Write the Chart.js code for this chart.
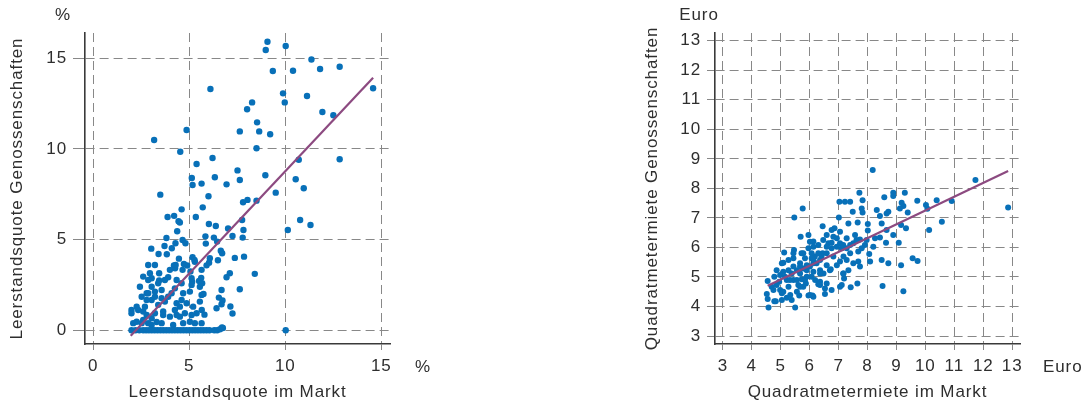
<!DOCTYPE html>
<html>
<head>
<meta charset="utf-8">
<script src="https://cdn.jsdelivr.net/npm/chart.js@4/dist/chart.umd.min.js"></script>
<style>
  html, body { margin: 0; padding: 0; background: #fff; }
  #wrap { position: relative; width: 1083px; height: 403px; overflow: hidden; }
  canvas { position: absolute; top: 0; }
  #leerstand { left: 0; }
  #miete { left: 540px; }
</style>
</head>
<body>
<div id="wrap">
  <canvas id="leerstand" width="540" height="403" style="width:540px;height:403px"></canvas>
  <canvas id="miete" width="543" height="403" style="width:543px;height:403px"></canvas>
</div>
<script>
// ---- Leerstandsquote: Markt (x) vs. Genossenschaften (y), in % ----
const leerstandTicks = [0, 5, 10, 15];
const leerstandPunkte = [
  [9.07,15.92],[8.98,15.46],[10.02,15.68],[11.36,14.94],[12.83,14.54],[11.81,14.41],[9.35,14.30],[10.40,14.32],
  [6.10,13.31],[14.57,13.35],[9.88,13.07],[11.13,12.92],[9.97,12.57],[8.27,12.57],[8.01,12.19],[11.93,12.04],
  [12.50,11.86],[8.53,11.47],[4.86,11.05],[7.63,10.97],[8.64,10.97],[9.21,10.81],[3.17,10.50],[8.50,10.04],
  [4.53,9.85],[6.21,9.50],[10.70,9.41],[12.83,9.43],[5.38,9.17],[8.96,8.55],[7.51,8.82],[5.13,8.40],
  [6.33,8.44],[7.63,8.29],[10.54,8.33],[5.64,8.09],[5.17,8.01],[6.94,8.05],[10.96,7.83],[9.50,7.59],
  [3.49,7.48],[6.00,7.39],[8.03,7.19],[7.80,7.06],[8.50,7.15],[5.70,6.78],[4.60,6.67],[3.87,6.25],
  [4.21,6.31],[5.34,6.25],[4.44,6.01],[4.51,5.94],[6.02,5.86],[10.77,6.08],[7.75,6.08],[6.38,5.75],
  [11.31,5.81],[7.02,5.61],[10.13,5.53],[4.37,5.46],[7.82,5.53],[7.25,5.20],[5.84,5.18],[6.28,5.11],
  [3.81,5.09],[7.78,5.11],[4.65,4.98],[4.80,4.80],[4.28,4.80],[3.02,4.50],[4.09,4.52],[3.71,4.65],
  [5.86,4.78],[6.45,4.89],[6.64,4.39],[6.71,4.25],[3.40,4.21],[3.83,4.19],[5.17,4.03],[5.27,3.88],
  [6.07,3.97],[7.37,3.99],[7.85,4.06],[4.46,3.95],[6.49,3.86],[6.03,3.73],[4.89,3.57],[3.21,3.60],
  [5.90,3.58],[8.41,3.11],[4.20,3.57],[4.26,3.42],[4.65,3.33],[5.06,3.24],[3.43,3.14],[7.11,3.14],
  [6.94,2.92],[5.62,2.89],[5.51,2.72],[5.15,2.68],[7.63,2.26],[6.68,2.22],[5.64,1.95],[5.74,2.00],
  [6.54,1.80],[6.73,1.64],[5.55,1.58],[6.68,1.43],[7.14,1.31],[5.65,1.12],[6.42,1.21],[7.25,0.92],
  [5.79,0.86],[10.02,0.00],
  [5.29,3.78],[2.86,3.60],[3.99,3.33],[2.95,3.14],[3.04,2.87],[3.43,2.74],[3.90,2.92],[4.34,2.77],
  [5.12,2.87],[2.43,2.40],[2.78,2.04],[3.56,2.22],[4.08,2.04],[4.60,2.59],[5.12,2.50],[5.55,2.40],
  [3.04,1.67],[3.73,1.58],[4.34,1.49],[4.86,1.49],[5.20,1.30],[1.99,1.12],[1.99,0.94],[2.26,1.30],
  [2.60,1.03],[3.21,0.94],[3.64,0.84],[3.99,0.75],[4.51,0.75],[5.12,0.84],[2.08,0.39],[2.52,0.39],
  [3.04,0.29],[3.56,0.39],[4.16,0.29],[4.68,0.39],[5.29,0.39],
  [4.29,3.60],[4.72,3.66],[2.60,2.96],[5.64,3.33],[2.86,2.77],[3.38,2.59],[3.73,2.77],[5.67,2.59],
  [2.86,2.04],[3.21,2.13],[4.68,2.04],[5.03,2.13],[2.34,1.12],[2.69,1.30],[3.38,1.40],[4.51,1.30],
  [5.38,0.94],[4.77,0.94],[4.34,0.84],[3.04,0.66],[2.60,0.57],[2.26,0.47],[2.86,0.39],[3.30,0.45],
  [5.03,0.47],[5.64,0.39],[3.21,1.85],[3.56,1.77],[3.90,1.85],[2.78,1.67],[2.52,1.85],[3.04,2.40],
  [4.25,2.31],[4.60,1.67],[4.25,1.12],[2.78,0.84],[3.64,1.03],
  [1.99,0],[2.20,0],[2.40,0],[2.60,0],[2.75,0],[2.90,0],[3.05,0],[3.20,0],[3.35,0],[3.50,0],
  [3.65,0],[3.80,0],[3.95,0],[4.10,0],[4.25,0],[4.40,0],[4.55,0],[4.70,0],[4.85,0],[5.00,0],
  [5.15,0],[5.30,0],[5.45,0],[5.60,0],[5.75,0],[5.90,0],[6.05,0],[6.30,0],[6.45,0],[6.60,0.05],
  [6.75,0.12],[6.70,0.15]
];
const leerstandTrend = [[1.95,-0.31],[14.57,13.93]];

// ---- Quadratmetermiete: Markt (x) vs. Genossenschaften (y), in Euro ----
const mieteTicks = [3, 4, 5, 6, 7, 8, 9, 10, 11, 12, 13];
const mietePunkte = [
  [8.18,8.62],[11.73,8.28],[12.86,7.35],[7.72,7.85],[8.89,7.85],[9.29,7.85],[7.03,7.55],[7.22,7.55],
  [7.40,7.55],[7.83,7.60],[9.72,7.58],[10.39,7.60],[10.91,7.57],[10.02,7.44],[10.07,7.31],[8.58,7.70],
  [8.89,7.74],[9.18,7.51],[9.24,7.40],[9.39,7.18],[9.12,7.32],[5.76,7.32],[5.47,7.01],[7.01,7.01],
  [7.49,7.21],[7.80,7.32],[7.83,7.18],[8.32,7.27],[8.43,7.06],[8.72,7.21],[8.66,7.15],[10.57,6.87],
  [10.13,6.59],[9.33,6.65],[9.16,6.76],[8.66,6.59],[8.49,6.81],[8.01,6.79],[8.01,6.57],[7.66,6.84],
  [7.34,6.81],[6.86,6.65],[6.45,6.72],[6.59,6.42],[7.05,6.53],[7.28,6.31],[7.57,6.42],[7.74,6.27],
  [8.26,6.31],[8.43,6.34],[8.89,6.42],[9.08,6.16],[8.64,6.16],[8.20,6.02],[8.06,5.78],[8.09,5.52],
  [8.49,5.57],[8.72,5.46],[9.16,5.40],[9.56,5.63],[9.73,5.54],[8.52,4.69],[9.24,4.52],[7.65,4.78],
  [7.42,4.65],[7.11,4.73],[6.53,4.42],[6.10,4.37],[5.96,4.37],[5.64,4.37],[5.50,3.97],[4.58,3.97],
  [4.55,4.25],[4.52,4.42],[4.78,4.18],[4.83,4.18],[5.04,4.22],[5.21,4.30],[5.38,4.22],[4.55,4.86],
  [4.78,5.01],[5.04,5.46],[5.12,5.83],[5.46,5.91],[5.69,6.36],[5.96,6.42],[6.13,6.20],[6.45,5.80],
  [6.76,6.59],[6.82,6.36],[6.94,6.02],[7.05,6.14],[7.17,5.69],[7.40,5.80],[7.68,5.86],[7.74,5.35],
  [7.34,5.23],[7.17,5.12],[7.19,4.95],[6.94,5.40],[6.73,5.26],[6.59,5.40],[6.48,5.12],[6.36,4.84],
  [6.53,4.61],[6.36,4.73],[6.19,4.90],[5.87,4.78],[5.61,4.73],[5.78,4.67],[5.27,4.67],[4.98,4.56],
  [5.09,4.50],[4.69,4.67],[5.56,4.50],[5.44,4.90],[5.67,5.12],[5.90,5.01],[6.13,5.18],[6.01,5.35],
  [6.24,5.46],[6.41,5.69],[6.18,5.69],[6.07,5.80],[5.84,5.63],[5.67,5.46],[5.44,5.35],[5.27,5.23],
  [5.15,5.01],[4.95,4.84],[5.38,5.12],[5.56,5.23],[5.27,5.57],[5.44,5.63],[5.72,5.80],[5.96,5.97],
  [6.13,6.02],[6.30,6.08],[6.47,6.25],[6.65,6.14],[6.76,5.97],[6.94,6.31],[7.11,5.97],[7.28,5.97],
  [7.51,6.14],[7.28,5.57],[7.05,5.52],[6.82,5.69],[6.59,5.80],[6.30,5.80],[6.13,5.46],[5.90,5.40],
  [5.78,5.29],[6.07,5.01],[6.36,5.23],[7.51,5.46],[7.68,5.52],[7.97,6.25],[7.91,6.08],[7.80,5.97],
  [7.62,6.25],[7.40,6.08],[4.86,5.23],[5.09,5.18],[4.98,5.07],[5.21,4.90],[4.86,4.73],[4.75,4.56],
  [5.33,4.39],[5.56,4.90],[5.73,4.92],[5.04,4.45],[6.01,4.39],[6.13,4.33],[5.67,4.67],[5.09,5.48],
  [5.44,5.80],[5.78,5.80],[6.01,6.19],[6.07,5.63],[6.59,6.02],[6.76,6.16],[7.16,6.08],[6.70,5.23],
  [6.36,5.12],[6.30,4.75],[6.59,4.78],[6.76,4.56],[7.05,4.67],[7.16,5.12],[5.84,4.90],[5.32,4.90],
  [5.67,5.35],[5.90,5.23],[6.13,5.57],[6.36,5.57]
];
const mieteTrend = [[4.55,4.70],[12.86,8.59]];

const FONT = '"Liberation Sans", Arial, Helvetica, sans-serif';
const TEXT = '#2e2e2e';
const DOT = '#0870b8';
const TREND = '#8c4a80';
const GRID = '#888888';

Chart.defaults.font.family = FONT;
Chart.defaults.color = TEXT;

// Unit captions at the axis ends, plus slightly tracked lettering for all text
const unitCaptions = {
  id: 'unitCaptions',
  beforeDraw(chart) { chart.ctx.letterSpacing = '0.9px'; },
  afterDraw(chart, args, opts) {
    const ctx = chart.ctx, a = chart.chartArea;
    ctx.save();
    ctx.font = '17px ' + FONT;
    ctx.fillStyle = TEXT;
    ctx.textBaseline = 'middle';
    ctx.textAlign = 'center';
    ctx.fillText(opts.text, a.left + opts.topDx, a.top - 18);
    ctx.textAlign = 'left';
    ctx.fillText(opts.text, a.right + opts.rightDx, a.bottom + 23);
    ctx.restore();
  }
};

const toXY = pairs => pairs.map(([x, y]) => ({ x, y }));

function axis(o) {
  return {
    type: 'linear',
    min: o.min,
    max: o.max,
    afterBuildTicks: s => { s.ticks = o.ticks.map(v => ({ value: v })); },
    afterFit: s => { if (o.size) { if (s.isHorizontal()) s.height = o.size; else s.width = o.size; } },
    grid: { color: GRID, lineWidth: 1, tickLength: o.tickLength, tickColor: GRID, tickWidth: 1 },
    border: { display: true, color: '#3a3a3a', width: 1.6, dash: [9, 5] },
    ticks: { padding: o.tickPad, font: { size: 17 }, color: TEXT, maxRotation: 0, autoSkip: false },
    title: { display: true, text: o.title, font: { size: 17, lineHeight: 1.2 }, color: TEXT, padding: o.titlePad }
  };
}

function scatterChart(id, cfg) {
  return new Chart(document.getElementById(id), {
    type: 'scatter',
    data: {
      datasets: [
        { data: toXY(cfg.trend), showLine: true, borderColor: TREND, borderWidth: 2.2, pointRadius: 0, order: 0 },
        { data: toXY(cfg.points), backgroundColor: DOT, borderWidth: 0, pointRadius: cfg.radius, order: 1 }
      ]
    },
    options: {
      responsive: false,
      animation: false,
      events: [],
      layout: { padding: cfg.padding },
      plugins: { legend: { display: false }, tooltip: { enabled: false }, unitCaptions: cfg.units },
      scales: { x: axis(cfg.x), y: axis(cfg.y) }
    },
    plugins: [unitCaptions]
  });
}

scatterChart('leerstand', {
  points: leerstandPunkte,
  trend: leerstandTrend,
  radius: 3.2,
  padding: { left: 0, top: 33, right: 150, bottom: 0 },
  units: { text: '%', topDx: -22, rightDx: 25 },
  x: { min: -0.43, max: 15.45, ticks: leerstandTicks, size: 59, tickLength: 6, tickPad: 6,
       title: 'Leerstandsquote im Markt', titlePad: { top: 0, bottom: 0 } },
  y: { min: -0.76, max: 16.4, ticks: leerstandTicks, size: 85, tickLength: 12, tickPad: 6,
       title: 'Leerstandsquote Genossenschaften', titlePad: { top: 7, bottom: 0 } }
});

scatterChart('miete', {
  points: mietePunkte,
  trend: mieteTrend,
  radius: 3.0,
  padding: { left: 95, top: 33, right: 63, bottom: 0 },
  units: { text: 'Euro', topDx: -16, rightDx: 23 },
  x: { min: 2.73, max: 13.27, ticks: mieteTicks, size: 59, tickLength: 6, tickPad: 6,
       title: 'Quadratmetermiete im Markt', titlePad: { top: 0, bottom: 0 } },
  y: { min: 2.73, max: 13.26, ticks: mieteTicks, size: 80, tickLength: 8, tickPad: 6,
       title: 'Quadratmetermiete Genossenschaften', titlePad: { top: 7, bottom: 0 } }
});
</script>
</body>
</html>
